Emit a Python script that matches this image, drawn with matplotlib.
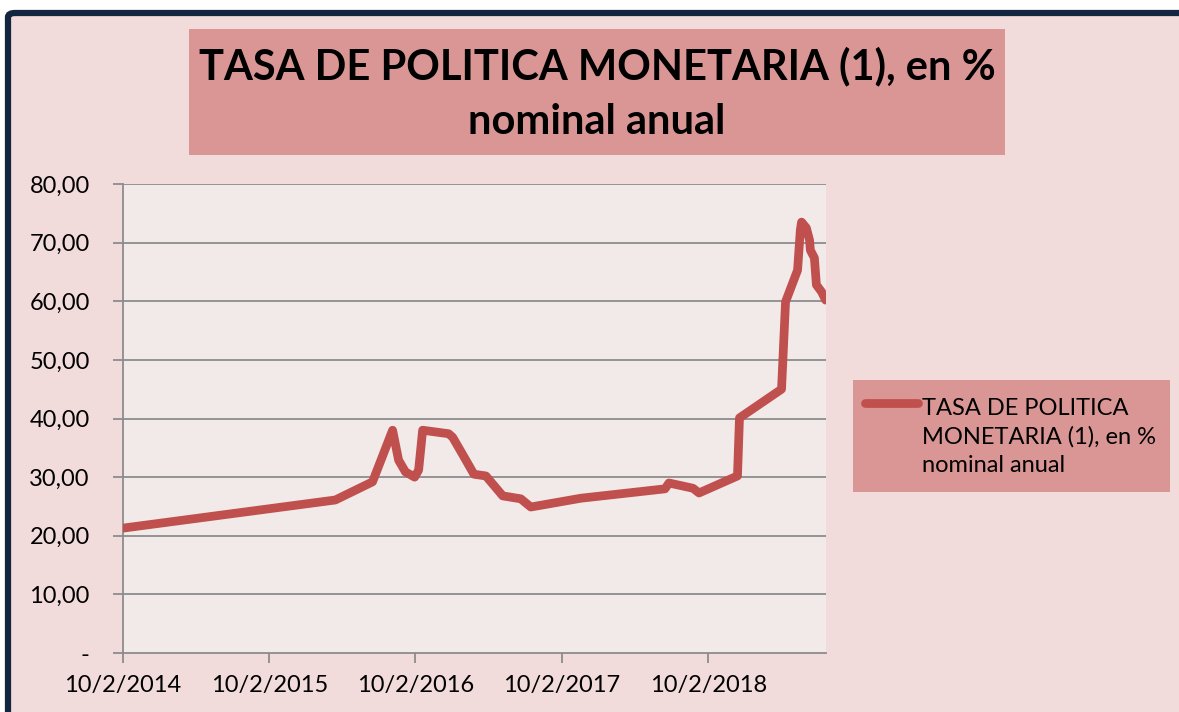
import matplotlib.pyplot as plt
import matplotlib.dates as mdates
from matplotlib.patches import FancyBboxPatch, Rectangle
from matplotlib.lines import Line2D
from matplotlib.ticker import FuncFormatter
import numpy as np

plt.rcParams['font.family'] = ['Lato', 'DejaVu Sans']

# data (dates dd/mm style axis, values in %)
fechas = ['2014-02-10', '2015-07-25', '2015-10-26', '2015-12-15', '2015-12-30',
          '2016-01-16', '2016-02-08', '2016-02-18', '2016-02-28', '2016-05-03',
          '2016-05-13', '2016-06-15', '2016-07-05', '2016-08-04', '2016-09-15',
          '2016-10-30', '2016-11-24', '2017-03-29', '2017-10-25', '2017-11-04',
          '2018-01-03', '2018-01-18', '2018-04-24', '2018-04-29', '2018-08-12',
          '2018-08-22', '2018-09-21', '2018-09-28', '2018-10-01', '2018-10-13',
          '2018-10-21', '2018-10-23', '2018-11-02', '2018-11-07', '2018-11-20',
          '2018-11-30']
tasa = [21.3, 26.1, 29.2, 38.0, 32.9,
        30.9, 30.0, 31.2, 38.0, 37.4,
        36.8, 32.9, 30.5, 30.2, 26.8,
        26.3, 24.9, 26.4, 28.0, 29.0,
        28.1, 27.3, 30.2, 40.1, 45.0,
        59.9, 65.3, 72.2, 73.5, 72.5,
        70.4, 68.7, 67.4, 62.8, 61.6,
        60.2]
tick_fechas = ['2014-02-10', '2015-02-10', '2016-02-10', '2017-02-10', '2018-02-10']
titulo = 'TASA DE POLITICA MONETARIA (1), en %\nnominal anual'
serie = 'TASA DE POLITICA\nMONETARIA (1), en %\nnominal anual'

x = np.array(fechas, dtype='datetime64[D]')
xt = np.array(tick_fechas, dtype='datetime64[D]')

W, H = 1179, 712
fig = plt.figure(figsize=(W / 100, H / 100), dpi=100)
fig.patch.set_facecolor('white')

# chart area with dark border (cut off at right and bottom)
bg = FancyBboxPatch((8 / W, -0.2), 1.2, 1 - 13 / H + 0.2,
                    boxstyle='round,pad=0,rounding_size=0.006',
                    transform=fig.transFigure, facecolor='#F2DCDB',
                    edgecolor='#12263F', linewidth=4.5, zorder=-2)
fig.patches.append(bg)

# title box
fig.patches.append(Rectangle((189 / W, 1 - 155 / H), (1005 - 189) / W, (155 - 29) / H,
                             transform=fig.transFigure, facecolor='#D99694',
                             edgecolor='none', zorder=-1))
fig.text(597 / W, 1 - 94 / H, titulo, ha='center', va='center', fontsize=30,
         fontweight='bold', linespacing=1.55, zorder=2)

ax = fig.add_axes([123 / W, 1 - 653 / H, (826 - 123) / W, (653 - 184) / H])
ax.set_facecolor('#F2E9E9')
ax.plot(x, tasa, color='#C0504D', linewidth=6.3, solid_capstyle='round',
        solid_joinstyle='round', zorder=3)

ax.set_xlim(x[0], np.datetime64('2018-12-01'))
ax.set_ylim(0, 80)
ax.set_yticks(np.arange(0, 81, 10))
ax.yaxis.set_major_formatter(FuncFormatter(
    lambda v, p: '-' if v == 0 else f'{v:.2f}'.replace('.', ',')))
ax.set_xticks(xt)
ax.xaxis.set_major_formatter(mdates.DateFormatter('%-d/%-m/%Y'))

for v in range(10, 81, 10):
    ax.axhline(v, color='#8C8C8C', linewidth=1.3, zorder=1)
for s in ['top', 'right']:
    ax.spines[s].set_visible(False)
for s in ['left', 'bottom']:
    ax.spines[s].set_color('#8C8C8C')
    ax.spines[s].set_linewidth(1.3)
ax.tick_params(axis='both', colors='#8C8C8C', length=7, width=1.3,
               labelcolor='black', labelsize=17)
ax.tick_params(axis='y', pad=17)
ax.tick_params(axis='x', pad=9)

# legend box
fig.patches.append(Rectangle((853 / W, 1 - 492 / H), (1170 - 853) / W, (492 - 380) / H,
                             transform=fig.transFigure, facecolor='#D99694',
                             edgecolor='none', zorder=-1))
fig.lines.append(Line2D([865 / W, 918 / W], [1 - 403 / H, 1 - 403 / H],
                        transform=fig.transFigure, color='#C0504D', linewidth=6.3,
                        solid_capstyle='round', zorder=2))
fig.text(922 / W, 1 - 437 / H, serie, ha='left', va='center', fontsize=17,
         linespacing=1.4, zorder=2)

fig.savefig('out.png', dpi=100)
